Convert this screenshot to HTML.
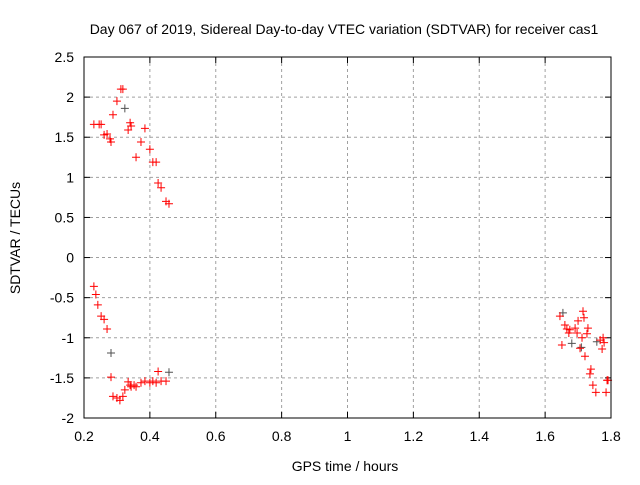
<!DOCTYPE html>
<html><head><meta charset="utf-8"><style>
body{margin:0;background:#fff}
svg text{font-family:"Liberation Sans",sans-serif;font-size:14px;fill:#000}
</style></head><body>
<svg id="chart" width="640" height="480">
<text x="344" y="34" text-anchor="middle">Day 067 of 2019, Sidereal Day-to-day VTEC variation (SDTVAR) for receiver cas1</text>
<text x="345" y="471" text-anchor="middle">GPS time / hours</text>
<text x="0" y="0" transform="translate(20,238) rotate(-90)" text-anchor="middle">SDTVAR / TECUs</text>
<g id="grid"></g><g id="ticks"></g><g id="pts"></g>
<rect x="84" y="57" width="527" height="361" fill="none" stroke="#000"/>
</svg>
<script>
const xTicks=[0.2,0.4,0.6,0.8,1,1.2,1.4,1.6,1.8];
const xTickLabels=["0.2","0.4","0.6","0.8","1","1.2","1.4","1.6","1.8"];
const yTicks=[-2,-1.5,-1,-0.5,0,0.5,1,1.5,2,2.5];
const yTickLabels=["-2","-1.5","-1","-0.5","0","0.5","1","1.5","2","2.5"];
const redX=[0.230,0.246,0.252,0.261,0.270,0.279,0.282,0.288,0.300,0.312,0.318,0.334,0.340,0.343,0.358,0.373,0.385,0.400,0.409,0.419,0.425,0.434,0.449,0.458,
0.230,0.236,0.242,0.252,0.261,0.270,0.282,0.288,0.300,0.309,0.318,0.324,0.334,0.340,0.343,0.352,0.358,0.373,0.385,0.400,0.409,0.419,0.425,0.434,0.449,
1.645,1.651,1.660,1.666,1.672,1.675,1.691,1.697,1.700,1.706,1.712,1.715,1.718,1.721,1.727,1.730,1.736,1.739,1.745,1.754,1.767,1.773,1.776,1.785,1.788,1.791,1.779];
const redY=[1.66,1.66,1.66,1.53,1.54,1.48,1.44,1.78,1.95,2.10,2.10,1.59,1.68,1.64,1.25,1.44,1.61,1.35,1.19,1.19,0.93,0.87,0.70,0.67,
-0.36,-0.46,-0.59,-0.73,-0.77,-0.89,-1.49,-1.73,-1.75,-1.78,-1.73,-1.65,-1.55,-1.59,-1.61,-1.59,-1.61,-1.56,-1.54,-1.56,-1.54,-1.56,-1.42,-1.54,-1.54,
-0.73,-1.09,-0.84,-0.89,-0.94,-0.90,-0.88,-0.94,-0.79,-1.13,-1.00,-0.67,-0.75,-1.23,-0.95,-0.88,-1.45,-1.39,-1.59,-1.68,-1.03,-1.14,-1.00,-1.68,-1.53,-1.53,-1.06];
const grayX=[0.324,0.282,0.458,1.654,1.681,1.710,1.757];
const grayY=[1.86,-1.19,-1.43,-0.69,-1.07,-1.12,-1.05];
const X0=84,X1=611,Y0=418,Y1=57;
const sx=v=>X0+(v-0.2)/1.6*(X1-X0);
const sy=v=>Y0-(v+2)/4.5*(Y0-Y1);
const NS="http://www.w3.org/2000/svg";
function mk(tag,attrs,parent){const e=document.createElementNS(NS,tag);for(const k in attrs)e.setAttribute(k,attrs[k]);parent.appendChild(e);return e;}
const grid=document.getElementById('grid'),ticks=document.getElementById('ticks'),pts=document.getElementById('pts');
xTicks.forEach((t,i)=>{const x=sx(t);
 if(i>0&&i<xTicks.length-1){const g=mk('line',{x1:x,x2:x,y1:Y1,y2:Y0,stroke:'#a0a0a0','stroke-dasharray':'3,3'},grid);
 
 }
 mk('line',{x1:x,x2:x,y1:Y0,y2:Y0-6,stroke:'#000'},ticks);mk('line',{x1:x,x2:x,y1:Y1,y2:Y1+6,stroke:'#000'},ticks);
 const tx=mk('text',{x:x,y:Y0+23,'text-anchor':'middle'},ticks);tx.textContent=xTickLabels[i];
 
 });
yTicks.forEach((t,i)=>{const y=sy(t);
 if(i>0&&i<yTicks.length-1){const g=mk('line',{x1:X0,x2:X1,y1:y,y2:y,stroke:'#a0a0a0','stroke-dasharray':'3,3'},grid);
 
 }
 mk('line',{x1:X0,x2:X0+6,y1:y,y2:y,stroke:'#000'},ticks);mk('line',{x1:X1,x2:X1-6,y1:y,y2:y,stroke:'#000'},ticks);
 const tx=mk('text',{x:X0-10,y:y+5,'text-anchor':'end'},ticks);tx.textContent=yTickLabels[i];
 
 });
function plus(x,y,c,name){const g=mk('path',{d:`M${x-4},${y}h8M${x},${y-4}v8`,stroke:c,'stroke-width':1},pts);
 
 }
grayX.forEach((v,i)=>plus(sx(v),sy(grayY[i]),'#505050','gray-point'));
redX.forEach((v,i)=>plus(sx(v),sy(redY[i]),'#ff0000','red-point'));
</script>
</body></html>
